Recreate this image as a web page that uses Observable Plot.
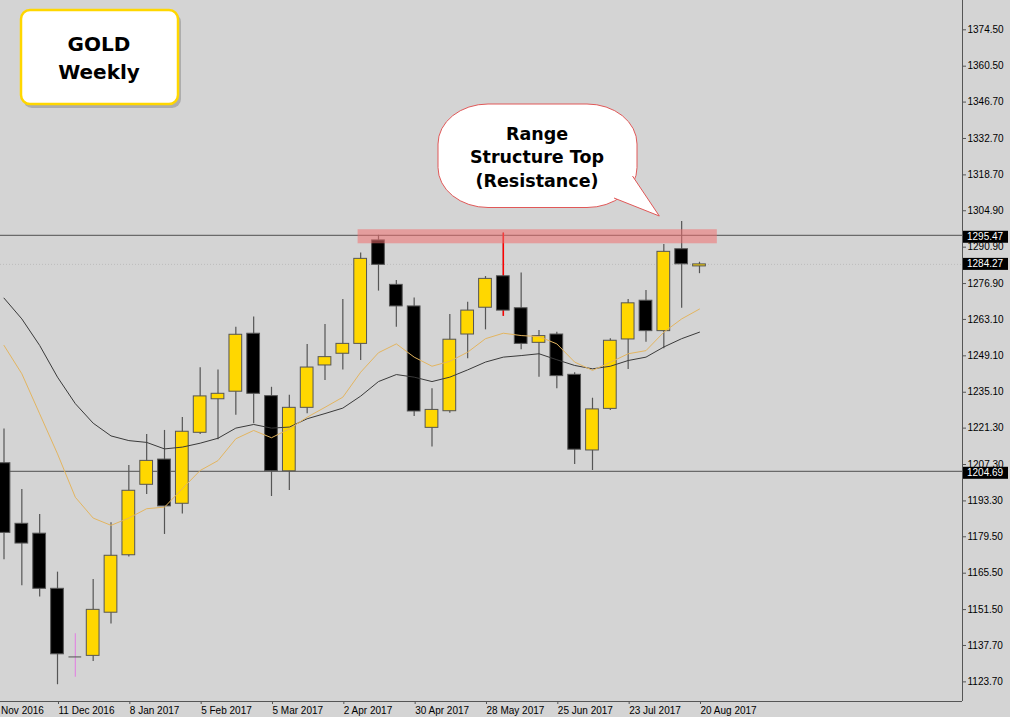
<!DOCTYPE html>
<html><head><meta charset="utf-8">
<script src="https://cdn.jsdelivr.net/npm/d3@7"></script>
<script src="https://cdn.jsdelivr.net/npm/@observablehq/plot@0.6"></script>
<style>
html,body{margin:0;padding:0;background:#d4d4d4;}
#chart{position:relative;width:1010px;height:717px;overflow:hidden;}
</style></head><body><div id="chart"></div>
<script>
// ---- data (weekly GOLD candles) ----
const weeks = ["2016-11-20","2016-11-27","2016-12-04","2016-12-11","2016-12-18","2016-12-25",
  "2017-01-01","2017-01-08","2017-01-15","2017-01-22","2017-01-29","2017-02-05","2017-02-12",
  "2017-02-19","2017-02-26","2017-03-05","2017-03-12","2017-03-19","2017-03-26","2017-04-02",
  "2017-04-09","2017-04-16","2017-04-23","2017-04-30","2017-05-07","2017-05-14","2017-05-21",
  "2017-05-28","2017-06-04","2017-06-11","2017-06-18","2017-06-25","2017-07-02","2017-07-09",
  "2017-07-16","2017-07-23","2017-07-30","2017-08-06","2017-08-13","2017-08-20"];
const open  = [1207.8,1184.5,1180.7,1159.5,1133.3,1133.7,1150.3,1172.4,1199.5,1209.2,1192.2,1219.5,1232.4,
  1235.3,1257.6,1233.6,1204.7,1229.1,1245.4,1249.9,1253.7,1293.5,1276.4,1268.1,1221.4,1227.8,1257.3,
  1267.6,1279.7,1267.4,1254.1,1257.3,1241.8,1212.7,1228.7,1255.4,1270.3,1258.6,1290.1,1283.5];
const high  = [1221.0,1197.7,1188.1,1165.9,1142.2,1163.1,1184.9,1206.9,1218.8,1220.4,1225.4,1244.5,1243.7,
  1260.1,1264.0,1237.0,1233.9,1253.5,1261.2,1270.8,1288.7,1295.47,1278.1,1271.3,1236.4,1265.0,1269.7,
  1279.6,1296.3,1281.0,1258.8,1258.2,1242.6,1232.8,1255.7,1270.8,1274.2,1291.9,1300.8,1285.1];
const low   = [1170.7,1160.7,1156.3,1122.6,1125.5,1131.5,1146.0,1171.7,1195.8,1180.4,1188.3,1218.8,1216.8,
  1226.2,1223.0,1195.0,1197.3,1226.8,1239.6,1243.7,1247.3,1274.0,1260.1,1225.8,1214.0,1227.0,1248.0,
  1259.1,1264.3,1251.4,1240.9,1236.4,1207.3,1205.0,1228.1,1243.8,1254.3,1251.8,1267.4,1280.7];
const close = [1181.0,1176.9,1159.5,1134.3,1133.3,1151.4,1172.2,1197.2,1208.7,1191.2,1219.9,1233.5,1234.5,
  1257.2,1234.5,1204.7,1229.1,1244.6,1248.6,1253.7,1286.4,1284.1,1268.1,1227.7,1228.3,1255.3,1266.5,
  1278.7,1266.5,1253.7,1256.7,1241.3,1213.0,1228.5,1254.9,1269.3,1258.6,1289.1,1284.3,1284.27];
const maFast = [1253.1,1242.2,1226.8,1211.4,1194.7,1186.7,1183.9,1186.7,1190.3,1190.9,1198.0,1205.0,1208.8,
  1217.2,1220.4,1217.6,1221.0,1225.5,1229.3,1233.2,1242.8,1250.3,1253.7,1248.6,1245.1,1247.0,1250.5,
  1255.7,1257.8,1256.9,1256.5,1253.7,1246.7,1243.5,1246.6,1249.9,1251.1,1258.2,1263.3,1267.1];
const maSlow = [1271.3,1263.3,1253.1,1240.9,1230.7,1223.2,1218.3,1216.5,1215.8,1213.3,1214.0,1215.5,1217.4,
  1221.3,1222.7,1221.3,1221.7,1224.9,1226.9,1229.0,1233.6,1239.2,1241.9,1240.9,1239.2,1240.9,1243.7,
  1246.7,1248.6,1249.2,1249.9,1247.6,1245.4,1244.1,1245.1,1247.3,1248.6,1252.5,1255.7,1258.2];
const xTickDates = ["2016-11-13","2016-12-11","2017-01-08","2017-02-05","2017-03-05","2017-04-02",
  "2017-04-30","2017-05-28","2017-06-25","2017-07-23","2017-08-20"];
const yTicks = [1374.5,1360.5,1346.7,1332.7,1318.7,1304.9,1290.9,1276.9,1263.1,1249.1,1235.1,
  1221.3,1207.3,1193.3,1179.5,1165.5,1151.5,1137.7,1123.7];
const resistanceLevel = 1295.47;
const supportLevel = 1204.69;
const lastPrice = 1284.27;
const zone = {start: "2017-04-08", end: "2017-08-27", low: 1292.2, high: 1297.6};
const spikeWeek = "2017-06-04";
const titleLines = ["GOLD", "Weekly"];
const calloutLines = ["Range", "Structure Top", "(Resistance)"];

// ---- build ----
const parse = d3.utcParse("%Y-%m-%d");
const candles = weeks.map((w, i) => ({date: parse(w), open: open[i], high: high[i], low: low[i],
  close: close[i], maFast: maFast[i], maSlow: maSlow[i]}));
const xTicks = xTickDates.map(parse);
const xDomain = [new Date(Date.UTC(2016, 10, 18, 15)), new Date(Date.UTC(2017, 11, 1, 5, 45))];
const yDomain = [1116.15, 1385.77];
const half = 2.5 * 864e5;
const sh = (d, k) => new Date(+d + k);
const bull = candles.filter(d => d.close > d.open);
const bear = candles.filter(d => d.close < d.open);
const doji = candles.filter(d => d.close === d.open);
const normal = candles.filter(d => d.close !== d.open);
const spike = candles.filter(d => +d.date === +parse(spikeWeek));

const plot = Plot.plot({
  width: 1010, height: 717,
  marginLeft: 0, marginRight: 48, marginTop: 0, marginBottom: 16,
  style: {background: "#d4d4d4", fontFamily: "'Liberation Sans', Arial, sans-serif", fontSize: "10px", color: "#000"},
  x: {type: "utc", domain: xDomain, label: null},
  y: {domain: yDomain, label: null},
  marks: [
    Plot.ruleY([resistanceLevel, supportLevel], {stroke: "#6a6a6a", strokeWidth: 1.2}),
    Plot.ruleY([lastPrice], {stroke: "#bcbcbc", strokeDasharray: "1,2"}),
    Plot.ruleX(normal, {x: "date", y1: "low", y2: "high", stroke: "#555", strokeWidth: 1.2}),
    Plot.ruleX(doji, {x: "date", y1: "low", y2: "high", stroke: "#e08ae0", strokeWidth: 1.2}),
    Plot.ruleY(doji, {y: "open", x1: d => sh(d.date, -half), x2: d => sh(d.date, half), stroke: "#666", strokeWidth: 1.2}),
    Plot.ruleX(spike, {x: "date", y1: "low", y2: "high", stroke: "#ff0000", strokeWidth: 1.5}),
    Plot.rect(bull, {x1: d => sh(d.date, -half), x2: d => sh(d.date, half), y1: "open", y2: "close", fill: "#FFD700", stroke: "#555", strokeWidth: 1}),
    Plot.rect(bear, {x1: d => sh(d.date, -half), x2: d => sh(d.date, half), y1: "open", y2: "close", fill: "#000", stroke: "#555", strokeWidth: 1}),
    Plot.line(candles, {x: "date", y: "maSlow", stroke: "#3a3a3a", strokeWidth: 1}),
    Plot.line(candles, {x: "date", y: "maFast", stroke: "#e3b560", strokeWidth: 1}),
    Plot.rect([zone], {x1: d => parse(d.start), x2: d => parse(d.end), y1: "low", y2: "high", fill: "#f07070", fillOpacity: 0.55}),
    Plot.ruleY([yDomain[0]], {stroke: "#555"}),
    Plot.ruleX([xDomain[1]], {stroke: "#555"}),
    Plot.axisY({anchor: "right", ticks: yTicks, tickFormat: d => d.toFixed(2), tickSize: 3, tickPadding: 2, stroke: "#555"}),
    Plot.axisX({ticks: xTicks, tickFormat: d3.utcFormat("%-d %b %Y"), tickSize: 3, tickPadding: 2, textAnchor: "start", dx: 1, stroke: "#555"})
  ]
});
document.getElementById("chart").appendChild(plot);

const svg = d3.select(plot);
const ys = plot.scale("y");
// price label boxes
[[resistanceLevel, 2], [lastPrice, 0], [supportLevel, 2]].forEach(([v, off]) => {
  const y = ys.apply(v) + off;
  svg.append("rect").attr("x", 963).attr("y", y - 6).attr("width", 45).attr("height", 12).attr("fill", "#000");
  svg.append("text").attr("x", 967).attr("y", y + 3.6).attr("fill", "#fff").attr("text-anchor", "start")
    .style("font", "10px 'Liberation Sans', Arial, sans-serif").text(v.toFixed(2));
});

// title box
const t = svg.append("g");
t.append("rect").attr("x", 23).attr("y", 13).attr("width", 158).attr("height", 95).attr("rx", 9)
  .attr("fill", "#8c8c8c").attr("opacity", 0.55);
t.append("rect").attr("x", 21).attr("y", 10).attr("width", 157).attr("height", 94).attr("rx", 9)
  .attr("fill", "#fff").attr("stroke", "#FFD700").attr("stroke-width", 2.5);
titleLines.forEach((s, i) => t.append("text").attr("x", 99).attr("y", 50.5 + i * 28)
  .attr("text-anchor", "middle").style("font", "bold 20px 'DejaVu Sans', sans-serif")
  .attr("fill", "#000").text(s));

// callout bubble
const c = svg.append("g");
c.append("rect").attr("x", 438).attr("y", 104).attr("width", 199).attr("height", 103.5)
  .attr("rx", 50).attr("ry", 40).attr("fill", "#fff").attr("stroke", "#e05858").attr("stroke-width", 1);
c.append("path").attr("d", "M614,198 L659.3,216 L632.5,176")
  .attr("fill", "#fff").attr("stroke", "#e05858").attr("stroke-width", 1);
calloutLines.forEach((s, i) => c.append("text").attr("x", 537).attr("y", 139.5 + i * 23.8)
  .attr("text-anchor", "middle").style("font", "bold 17.5px 'DejaVu Sans', sans-serif")
  .attr("fill", "#000").text(s));
</script></body></html>
